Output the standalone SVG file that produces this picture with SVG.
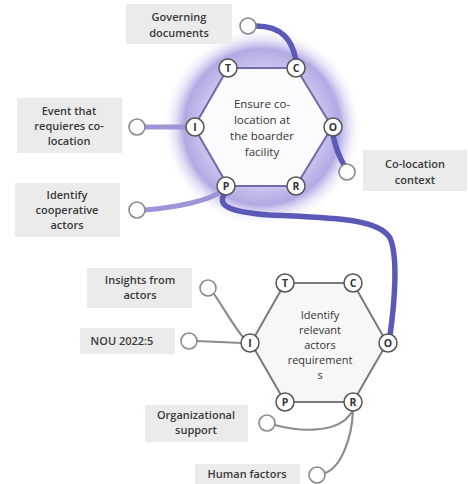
<svg xmlns="http://www.w3.org/2000/svg" width="468" height="484" viewBox="0 0 468 484">
<defs>
<radialGradient id="glow" cx="0.5" cy="0.5" r="0.5">
<stop offset="0" stop-color="#d8d3f5" stop-opacity="0.4"/>
<stop offset="0.55" stop-color="#bdb6ec" stop-opacity="0.7"/>
<stop offset="0.78" stop-color="#8f86d8" stop-opacity="0.7"/>
<stop offset="1" stop-color="#ffffff" stop-opacity="0"/>
</radialGradient>
<style>
.box{fill:#ebebeb}
.lbl{font-family:"Open Sans","DejaVu Sans",sans-serif;font-size:11px;font-weight:600;fill:#3a3a3a;text-anchor:middle}
.ttl{font-family:"Open Sans","DejaVu Sans",sans-serif;font-size:11.5px;font-weight:500;fill:#333;text-anchor:middle}
.end{fill:#fff;stroke:#8a8a8a;stroke-width:1.6}
.port{fill:#fff;stroke:#555;stroke-width:1.5}
.pl{font-family:"Open Sans","DejaVu Sans",sans-serif;font-size:10.5px;font-weight:700;fill:#333;text-anchor:middle}
.dk{fill:none;stroke:#5b59b8;stroke-width:5.5;stroke-linecap:round}
.lt{fill:none;stroke:#9c95d8;stroke-width:5;stroke-linecap:round}
.gr{fill:none;stroke:#8c8c8c;stroke-width:2.2}
</style>
</defs>
<rect width="468" height="484" fill="#fff"/>
<circle cx="262" cy="127" r="100" fill="url(#glow)"/>

<g id="connectors">
<path class="dk" d="M256 26 C282 26 292 40 296 60"/>
<path class="dk" d="M333 135 C336 150 340 158 344 165"/>
<path class="lt" d="M145 127 L187 127"/>
<path class="lt" d="M145 210 C180 207 210 200 222 191"/>
<path class="dk" d="M225 193 C216 206 230 212 270 215 C330 218 378 218 390 238 C398 256 395 300 390 335"/>
<path class="gr" d="M214 294 C225 310 236 330 244 338"/>
<path class="gr" d="M197 341 L242 343"/>
<path class="gr" d="M275 425 C300 432 330 432 345 420 C350 415 352 412 353 410"/>
<path class="gr" d="M325 473 C340 468 352 440 353 410"/>
</g>

<g id="hex1">
<polygon points="228,68 296,68 332,127 296,186 228,186 194,127" fill="#fbfbfd" stroke="#6f6ca8" stroke-width="2"/>
<text class="ttl"><tspan x="262" y="108">Ensure co-</tspan><tspan x="262" y="124">location at</tspan><tspan x="262" y="140">the boarder</tspan><tspan x="262" y="156">facility</tspan></text>
<circle class="port" cx="228" cy="68" r="9"/><text class="pl" x="228" y="72">T</text>
<circle class="port" cx="296" cy="68" r="9"/><text class="pl" x="296" y="72">C</text>
<circle class="port" cx="333" cy="127" r="9"/><text class="pl" x="333" y="131">O</text>
<circle class="port" cx="296" cy="186" r="9"/><text class="pl" x="296" y="190">R</text>
<circle class="port" cx="226" cy="186" r="9"/><text class="pl" x="226" y="190">P</text>
<circle class="port" cx="195" cy="127" r="9"/><text class="pl" x="195" y="131">I</text>
</g>

<g id="hex2">
<polygon points="285,283 353,283 387,343 353,402 285,402 251,343" fill="#f7f7f7" stroke="#7a7a7a" stroke-width="2"/>
<text class="ttl" style="font-size:11px"><tspan x="320" y="319">Identify</tspan><tspan x="320" y="334">relevant</tspan><tspan x="320" y="349">actors</tspan><tspan x="320" y="364">requirement</tspan><tspan x="320" y="379">s</tspan></text>
<circle class="port" cx="285" cy="283" r="9"/><text class="pl" x="285" y="287">T</text>
<circle class="port" cx="353" cy="283" r="9"/><text class="pl" x="353" y="287">C</text>
<circle class="port" cx="388" cy="343" r="9"/><text class="pl" x="388" y="347">O</text>
<circle class="port" cx="353" cy="402" r="9"/><text class="pl" x="353" y="406">R</text>
<circle class="port" cx="285" cy="402" r="9"/><text class="pl" x="285" y="406">P</text>
<circle class="port" cx="250" cy="343" r="9"/><text class="pl" x="250" y="347">I</text>
</g>

<g id="governing">
<rect class="box" x="126" y="4" width="106" height="40"/>
<text class="lbl"><tspan x="179" y="21">Governing</tspan><tspan x="179" y="37">documents</tspan></text>
<circle class="end" cx="248" cy="26" r="8"/>
</g>

<g id="event">
<rect class="box" x="17" y="98" width="105" height="55"/>
<text class="lbl"><tspan x="69" y="115">Event that</tspan><tspan x="69" y="130">requieres co-</tspan><tspan x="69" y="145">location</tspan></text>
<circle class="end" cx="137" cy="127" r="8"/>
</g>

<g id="cooperative">
<rect class="box" x="15" y="183" width="105" height="54"/>
<text class="lbl"><tspan x="67" y="199">Identify</tspan><tspan x="67" y="214">cooperative</tspan><tspan x="67" y="229">actors</tspan></text>
<circle class="end" cx="137" cy="210" r="8"/>
</g>

<g id="context">
<rect class="box" x="363" y="150" width="104" height="41"/>
<text class="lbl"><tspan x="415" y="168">Co-location</tspan><tspan x="415" y="184">context</tspan></text>
<circle class="end" cx="347" cy="172" r="8"/>
</g>

<g id="insights">
<rect class="box" x="87" y="268" width="105" height="40"/>
<text class="lbl"><tspan x="140" y="284">Insights from</tspan><tspan x="140" y="299">actors</tspan></text>
<circle class="end" cx="208" cy="288" r="8"/>
</g>

<g id="nou">
<rect class="box" x="80" y="328" width="95" height="26"/>
<text class="lbl" x="122" y="345">NOU 2022:5</text>
<circle class="end" cx="189" cy="341" r="8"/>
</g>

<g id="organizational">
<rect class="box" x="145" y="405" width="103" height="37"/>
<text class="lbl"><tspan x="196" y="419">Organizational</tspan><tspan x="196" y="434">support</tspan></text>
<circle class="end" cx="267" cy="423" r="8"/>
</g>

<g id="human">
<rect class="box" x="195" y="464" width="105" height="20"/>
<text class="lbl" x="247" y="478">Human factors</text>
<circle class="end" cx="317" cy="475" r="8"/>
</g>
</svg>
